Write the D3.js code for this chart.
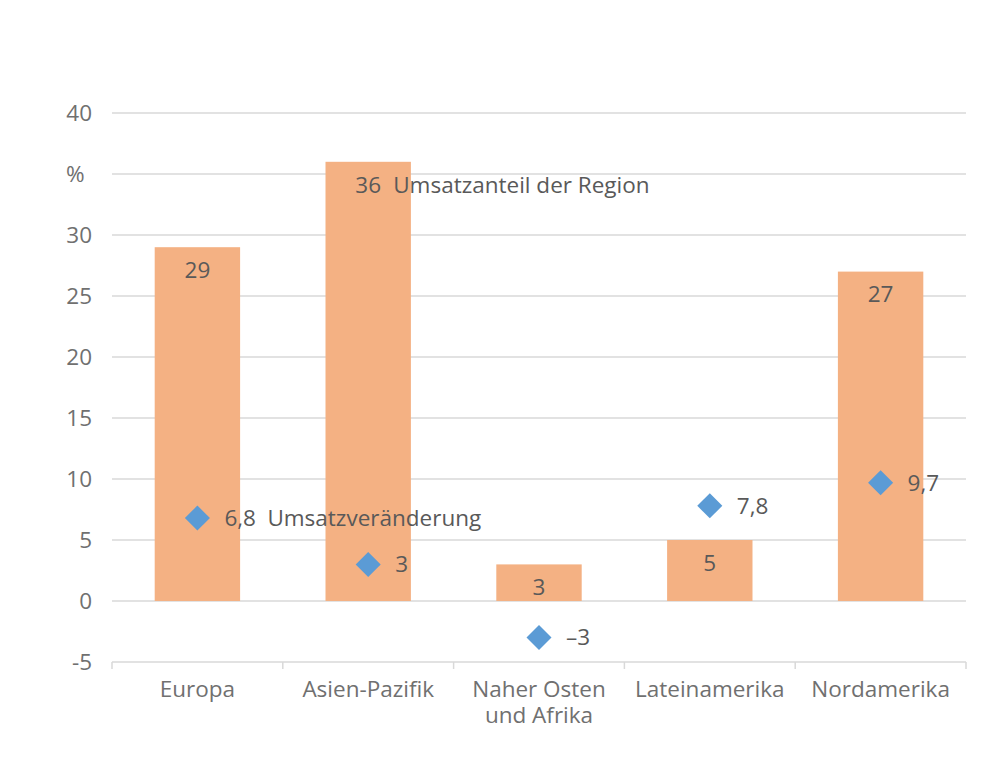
<!DOCTYPE html>
<html lang="de">
<head>
    <meta charset="UTF-8">
    <title>Umsatz nach Regionen</title>
    <style>
        body { margin: 0; background: #fff; }
        text { font-family: "Open Sans", "Noto Sans", sans-serif; }
    </style>
</head>
<body>
    <div class="canvas"></div>
    <script src="https://cdnjs.cloudflare.com/ajax/libs/d3/7.8.2/d3.min.js"></script>
    <script>
        // data
        const regions = ["Europa", "Asien-Pazifik", "Naher Osten\nund Afrika", "Lateinamerika", "Nordamerika"];
        const shares = [29, 36, 3, 5, 27];           // Umsatzanteil der Region
        const changes = [6.8, 3, -3, 7.8, 9.7];      // Umsatzveränderung
        const yTicks = [-5, 0, 5, 10, 15, 20, 25, 30, 35, 40];
        const yTickLabels = ["-5", "0", "5", "10", "15", "20", "25", "30", "%", "40"];

        const width = 1000;
        const height = 761;
        const margin = { top: 113, right: 34, bottom: 99, left: 112 };
        const graphWidth = width - margin.left - margin.right;
        const graphHeight = height - margin.top - margin.bottom;
        const fontSize = 22.5;

        const fmt = v => (v < 0 ? "\u2013" + String(-v) : String(v)).replace(".", ",");

        const svg = d3.select(".canvas").append("svg")
            .attr("width", width)
            .attr("height", height);

        const graph = svg.append("g").attr("transform", `translate(${margin.left}, ${margin.top})`);

        const x = d3.scaleBand()
            .domain(regions)
            .range([0, graphWidth])
            .paddingInner(0.5)
            .paddingOuter(0.25);

        const y = d3.scaleLinear()
            .domain([-5, 40])
            .range([graphHeight, 0]);

        // gridlines
        graph.append("g")
            .selectAll("line")
            .data(yTicks.filter(d => d > -5))
            .enter().append("line")
            .attr("x1", 0).attr("x2", graphWidth)
            .attr("y1", d => y(d)).attr("y2", d => y(d))
            .attr("stroke", "#d9d9d9")
            .attr("stroke-width", 1.5);

        // y labels
        graph.append("g")
            .selectAll("text")
            .data(yTicks)
            .enter().append("text")
            .attr("x", (d, i) => yTickLabels[i] === "%" ? -46 : -20)
            .attr("y", d => y(d))
            .attr("dy", "0.35em")
            .attr("text-anchor", (d, i) => yTickLabels[i] === "%" ? "start" : "end")
            .attr("font-size", fontSize)
            .attr("fill", "#707070")
            .text((d, i) => yTickLabels[i]);

        // bottom axis at -5
        const xAxisGroup = graph.append("g").attr("transform", `translate(0, ${y(-5)})`);
        xAxisGroup.append("line")
            .attr("x1", 0).attr("x2", graphWidth)
            .attr("stroke", "#d9d9d9").attr("stroke-width", 1.5);
        const step = x.step();
        xAxisGroup.selectAll(".tick")
            .data(d3.range(regions.length + 1))
            .enter().append("line")
            .attr("x1", i => i * step).attr("x2", i => i * step)
            .attr("y1", 0).attr("y2", 7)
            .attr("stroke", "#d9d9d9").attr("stroke-width", 1.5);

        const catLabels = xAxisGroup.selectAll(".cat")
            .data(regions)
            .enter().append("text")
            .attr("class", "cat")
            .attr("x", d => x(d) + x.bandwidth() / 2)
            .attr("y", 35)
            .attr("text-anchor", "middle")
            .attr("font-size", fontSize)
            .attr("fill", "#707070");
        catLabels.each(function (d) {
            const t = d3.select(this);
            d.split("\n").forEach((line, i) => {
                t.append("tspan")
                    .attr("x", x(d) + x.bandwidth() / 2)
                    .attr("dy", i === 0 ? 0 : 26)
                    .text(line);
            });
        });

        // bars
        graph.selectAll("rect")
            .data(shares)
            .enter().append("rect")
            .attr("x", (d, i) => x(regions[i]))
            .attr("y", d => y(d))
            .attr("width", x.bandwidth())
            .attr("height", d => y(0) - y(d))
            .attr("fill", "#f4b183");

        // bar labels
        graph.selectAll(".barLabel")
            .data(shares)
            .enter().append("text")
            .attr("class", "barLabel")
            .attr("x", (d, i) => x(regions[i]) + x.bandwidth() / 2)
            .attr("y", d => y(d) + 23)
            .attr("dy", "0.35em")
            .attr("text-anchor", "middle")
            .attr("font-size", fontSize)
            .attr("fill", "#595959")
            .text(d => fmt(d));

        graph.append("text")
            .attr("x", x(regions[1]) + x.bandwidth() / 2 + 25)
            .attr("y", y(shares[1]) + 23)
            .attr("dy", "0.35em")
            .attr("font-size", fontSize)
            .attr("fill", "#595959")
            .text("Umsatzanteil der Region");

        // diamonds
        const diamond = d3.symbol().type(d3.symbolDiamond2).size(400);
        graph.selectAll(".marker")
            .data(changes)
            .enter().append("path")
            .attr("class", "marker")
            .attr("d", diamond)
            .attr("transform", (d, i) => `translate(${x(regions[i]) + x.bandwidth() / 2}, ${y(d)})`)
            .attr("fill", "#5b9bd5");

        graph.selectAll(".markerLabel")
            .data(changes)
            .enter().append("text")
            .attr("class", "markerLabel")
            .attr("x", (d, i) => x(regions[i]) + x.bandwidth() / 2 + 27)
            .attr("y", d => y(d))
            .attr("dy", "0.35em")
            .attr("font-size", fontSize)
            .attr("fill", "#595959")
            .text(d => fmt(d));

        graph.append("text")
            .attr("x", x(regions[0]) + x.bandwidth() / 2 + 70)
            .attr("y", y(changes[0]))
            .attr("dy", "0.35em")
            .attr("font-size", fontSize)
            .attr("fill", "#595959")
            .text("Umsatzveränderung");
    </script>
</body>
</html>
